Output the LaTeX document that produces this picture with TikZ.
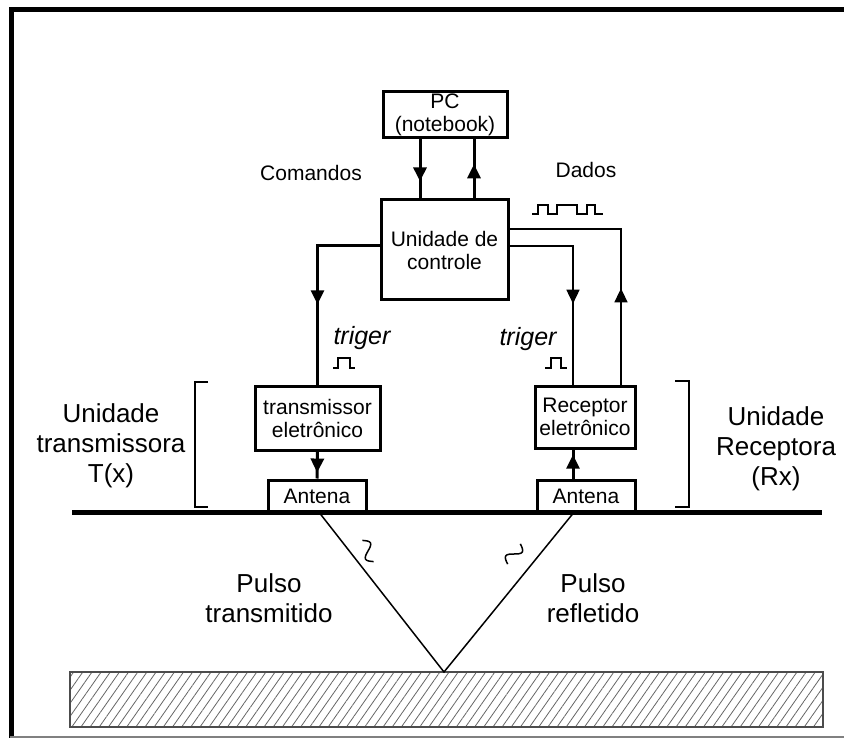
\documentclass[tikz,border=0pt]{standalone}
\usepackage{fontspec}
\setmainfont{Liberation Sans}
\usetikzlibrary{arrows.meta,decorations.markings,patterns.meta}

\begin{document}
\begin{tikzpicture}[x=1pt, y=-1pt,
    box/.style={draw, line width=3pt, inner sep=0pt, align=center, font=\fontsize{21}{23}\selectfont},
    lbl/.style={align=center, font=\fontsize{21}{23}\selectfont},
    biglbl/.style={align=center, font=\fontsize{26}{30}\selectfont},
    trig/.style={font=\fontsize{25}{28}\selectfont\itshape},
    thinline/.style={line width=1.5pt},
    thickline/.style={line width=3pt},
    midarrow/.style={postaction={decorate}, decoration={markings, mark=at position #1 with {\arrow{Triangle[length=14pt, width=13pt]}}}}]

    \useasboundingbox (0, 0) rectangle (844, 738);
    \draw [line width=5pt] (11.5, 738) -- (11.5, 9.5) -- (844, 9.5);
    \draw [gray, line width=1.5pt] (10, 737) -- (844, 737);

    \node [box, minimum width=124pt, minimum height=46pt] (pc) at (445, 115) {PC\\(notebook)};
    \node [box, minimum width=127pt, minimum height=100pt] (cu) at (444.5, 250) {Unidade de\\controle};
    \node [box, minimum width=125pt, minimum height=64pt] (tx) at (317.5, 418) {transmissor\\eletrônico};
    \node [box, minimum width=100pt, minimum height=62pt] (rx) at (585, 417) {Receptor\\eletrônico};
    \node [box, minimum width=98pt, minimum height=32pt] (at) at (317, 496) {Antena};
    \node [box, minimum width=98pt, minimum height=32pt] (ar) at (586, 496) {Antena};
    \node [draw=black!70, line width=1.2pt, inner sep=0pt, minimum width=753pt, minimum height=55pt,
        pattern={Lines[angle=55, distance=7.5pt, line width=0.8pt]}, pattern color=black!60] (sl) at (446.5, 699.5) {};
    \coordinate (v) at (444, 672);

    \node [lbl] (cmd) at (311, 173) {Comandos};
    \node [lbl] (dad) at (586, 170) {Dados};
    \node [trig] (tgl) at (362, 338) {triger};
    \node [trig] (tgr) at (528, 339) {triger};
    \node [biglbl] (ut) at (111, 446) {Unidade\\transmissora\\T(x)};
    \node [biglbl] (ur) at (776, 449) {Unidade\\Receptora\\(Rx)};
    \node [biglbl] (pt) at (269, 598) {Pulso\\transmitido};
    \node [biglbl] (pr) at (593, 598) {Pulso\\refletido};

    \draw [thickline, midarrow=0.71] ([xshift=-25pt]pc.south) -- ([xshift=-24.5pt]cu.north);
    \draw [thickline, midarrow=0.58] ([xshift=29.5pt]cu.north) -- ([xshift=29pt]pc.south);
    \draw [thickline, midarrow=0.6] ([yshift=4pt]cu.west) -| (tx.north);
    \draw [thinline, midarrow=0.6] ([yshift=4pt]cu.east) -| ([xshift=-12pt]rx.north);
    \draw [thinline, midarrow=0.36] ([xshift=36pt]rx.north) |- ([yshift=21pt]cu.east);
    \draw [thickline, midarrow=0.78] (tx.south) -- (at.north);
    \draw [thickline, midarrow=0.82] ([xshift=-13pt]ar.north) -- ([xshift=-12pt]rx.south);

    \draw [line width=5pt] (72, 512) -- (822, 512);
    \draw [thinline] ([xshift=3pt]at.south) -- (v) -- ([xshift=-13pt]ar.south);

    \draw [thinline] (208, 382) -- (195, 382) -- (195, 507) -- (208, 507);
    \draw [thinline] (675, 381) -- (689, 381) -- (689, 507) -- (675, 507);

    \draw [thinline] (333, 368) -- (338, 368) -- (338, 358) -- (350, 358) -- (350, 368) -- (355, 368);
    \draw [thinline] (545, 368) -- (551, 368) -- (551, 358) -- (561, 358) -- (561, 368) -- (567, 368);
    \draw [thinline] (532, 214) -- (538, 214) -- (538, 205) -- (548, 205) -- (548, 214) -- (557, 214) -- (557, 205) -- (577, 205)
        -- (577, 214) -- (587, 214) -- (587, 205) -- (595, 205) -- (595, 214) -- (603, 214);

    \draw [thinline, shift={(368, 551)}, rotate=-62] (-12, 0) sin (-6, -6) cos (0, 0) sin (6, 6) cos (12, 0);
    \draw [thinline, shift={(514, 554)}, rotate=58] (-12, 0) sin (-6, -6) cos (0, 0) sin (6, 6) cos (12, 0);

\end{tikzpicture}
\end{document}
